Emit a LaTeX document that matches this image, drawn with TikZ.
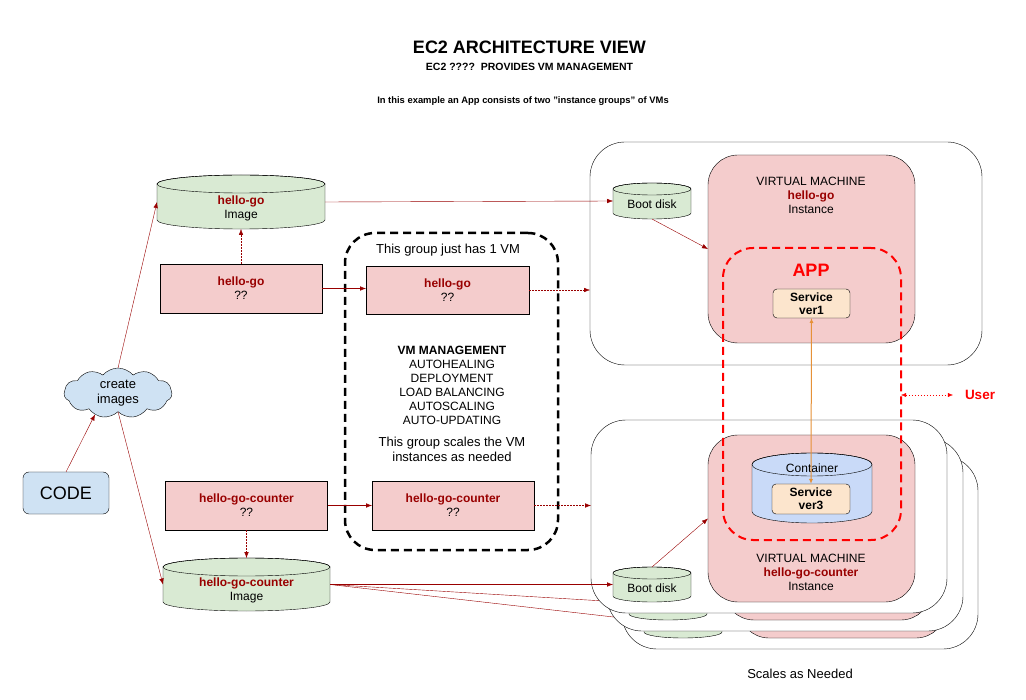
\documentclass[tikz,border=0pt]{standalone}
\usepackage{fontspec}
\setmainfont{Liberation Sans}
\usetikzlibrary{shapes.symbols,arrows.meta}

\definecolor{darkred}{HTML}{990000}
\definecolor{vmpink}{HTML}{F4CCCC}
\definecolor{diskgreen}{HTML}{D9EAD3}
\definecolor{codeblue}{HTML}{CFE2F3}
\definecolor{contblue}{HTML}{C9DAF8}
\definecolor{svcpeach}{HTML}{FCE5CD}
\definecolor{svcorange}{HTML}{E69138}
\definecolor{appred}{HTML}{FF0000}

\pgfdeclarelayer{background}
\pgfsetlayers{background,main}

\begin{document}
\begin{tikzpicture}[x=1pt, y=-1pt, line width=0.9pt,
        every node/.style={font=\fontsize{12}{14}\selectfont, align=center, inner sep=0pt, outer sep=0pt},
        pics/tube/.style n args={4}{code={
            \filldraw[fill=#4] (-#1,#3-#2) -- (-#1,#2-#3)
                arc[start angle=180, end angle=0, x radius=#1, y radius=#3]
                -- (#1,#3-#2) arc[start angle=0, end angle=-180, x radius=#1, y radius=#3] -- cycle;
            \draw (0,#3-#2) ellipse[x radius=#1, y radius=#3];
        }},
        srcbox/.style={draw, fill=vmpink, minimum width=162, minimum height=49},
        hostbox/.style={draw, fill=white, rounded corners=35, minimum width=356, minimum height=193},
        vmbox/.style={draw, fill=vmpink, rounded corners=30, minimum width=207, minimum height=167},
        svcbox/.style={draw, fill=svcpeach, rounded corners=4, minimum width=78, minimum height=30, font=\fontsize{12}{13}\selectfont\bfseries},
        link/.style={draw=darkred, -{Latex[length=6pt,width=4.5pt]}},
        dotlink/.style={link, dash pattern=on 1.5pt off 1.5pt}
    ]
        \useasboundingbox (0,0) rectangle (1026,700);
        \begin{pgfonlayer}{background}
            \fill[white] (0,0) rectangle (1026,700);
        \end{pgfonlayer}

        % titles
        \node[font=\fontsize{18}{20}\selectfont\bfseries] (title) at (529.5,47) {EC2 ARCHITECTURE VIEW};
        \node[font=\fontsize{10.5}{12}\selectfont\bfseries] (subtitle) at (529.5,67) {EC2 ????\ \ PROVIDES VM MANAGEMENT};
        \node[font=\fontsize{9.4}{11}\selectfont\bfseries] (intro) at (523,101) {In this example an App consists of two "instance groups" of VMs};

        % code and images
        \node[draw, fill=codeblue, rounded corners=6, minimum width=86, minimum height=42, font=\fontsize{18}{20}\selectfont] (code) at (66,493) {CODE};
        \node[cloud, draw, fill=codeblue, cloud puffs=11, cloud puff arc=100, aspect=2.2, minimum width=108, minimum height=50, font=\fontsize{13}{15}\selectfont] (cloud) at (118,393) {create\\images};
        \pic at (241,202) {tube={84}{27}{9}{diskgreen}};
        \node[minimum width=168, minimum height=54, label={[yshift=-6pt]center:{\textcolor{darkred}{\textbf{hello-go}}\\Image}}] (imgGo) at (241,202) {};
        \node[srcbox] (srcGo) at (241,288.5) {\textcolor{darkred}{\textbf{hello-go}}\\??};
        \node[srcbox] (srcCnt) at (246.5,505.5) {\textcolor{darkred}{\textbf{hello-go-counter}}\\??};
        \pic at (246.5,584.5) {tube={83.5}{26.5}{9}{diskgreen}};
        \node[minimum width=167, minimum height=53, label={[yshift=-5.5pt]center:{\textcolor{darkred}{\textbf{hello-go-counter}}\\Image}}] (imgCnt) at (246.5,584.5) {};

        % instance groups
        \node[draw, line width=2.5pt, dash pattern=on 8pt off 5pt, rounded corners=30, minimum width=213, minimum height=317] (grp) at (451.5,391.5) {};
        \node[font=\fontsize{13}{15}\selectfont] (grpOne) at (448,250) {This group just has 1 VM};
        \node[srcbox, minimum width=163, minimum height=48] (mgGo) at (447.5,290) {\textcolor{darkred}{\textbf{hello-go}}\\??};
        \node[srcbox] (mgCnt) at (453,505.5) {\textcolor{darkred}{\textbf{hello-go-counter}}\\??};
        \node (mgmt) at (452,385) {\textbf{VM MANAGEMENT}\\AUTOHEALING\\DEPLOYMENT\\LOAD BALANCING\\AUTOSCALING\\AUTO-UPDATING};
        \node[font=\fontsize{13}{15}\selectfont] (grpScale) at (452,449.5) {This group scales the VM\\instances as needed};

        % hello-go vm
        \node[hostbox, minimum width=392, minimum height=223] (hostGo) at (786,253.5) {};
        \pic at (652,201) {tube={39}{18}{6}{diskgreen}};
        \node[minimum width=78, minimum height=36, label={[yshift=-3pt]center:Boot disk}] (bootGo) at (652,201) {};
        \node[vmbox, minimum height=188] (vmGo) at (811.5,249) {};
        \node (vmGoTxt) at (811,195.5) {VIRTUAL MACHINE\\\textcolor{darkred}{\textbf{hello-go}}\\Instance};
        \node[svcbox, minimum width=77, minimum height=29] (svcOne) at (811.5,303.5) {Service\\ver1};

        % hello-go-counter vms, back copies first
        \foreach \i/\dx/\dy in {3/31/36, 2/16/18} {
            \node[hostbox] (hostCnt\i) at (769+\dx,516.5+\dy) {};
            \pic at (652+\dx,584.5+\dy) {tube={39}{17.5}{6}{diskgreen}};
            \node[minimum width=78, minimum height=35] (bootCnt\i) at (652+\dx,584.5+\dy) {};
            \node[vmbox] (vmCnt\i) at (811.5+\dx,518.5+\dy) {};
        }
        \node[hostbox] (hostCnt) at (769,516.5) {};
        \pic at (652,584.5) {tube={39}{17.5}{6}{diskgreen}};
        \node[minimum width=78, minimum height=35, label={[yshift=-3.5pt]center:Boot disk}] (bootCnt) at (652,584.5) {};
        \node[vmbox] (vmCnt) at (811.5,518.5) {};
        \node (vmCntTxt) at (811,572) {VIRTUAL MACHINE\\\textcolor{darkred}{\textbf{hello-go-counter}}\\Instance};
        \pic at (812,488) {tube={60}{35}{11.5}{contblue}};
        \node[minimum width=120, minimum height=70, label={[yshift=20pt]center:Container}] (cont) at (812,488) {};
        \node[svcbox] (svcThree) at (811,499) {Service\\ver3};
        \node[font=\fontsize{13}{15}\selectfont] (scaleNote) at (800,674) {Scales as Needed};

        % app
        \node[draw=appred, line width=2pt, dash pattern=on 8pt off 5pt, rounded corners=30, minimum width=178, minimum height=292] (app) at (812,394) {};
        \node[text=appred, font=\fontsize{18}{20}\selectfont\bfseries] (appTxt) at (811,270) {APP};
        \node[text=appred, font=\fontsize{13.5}{15}\selectfont\bfseries] (user) at (980,395) {User};

        % connectors
        \draw[link] (code.north) -- (cloud.223);
        \draw[link] (cloud.north) -- (imgGo.west);
        \draw[link] (cloud.south) -- (imgCnt.west);
        \draw[dotlink] (srcGo.north) -- (imgGo.south);
        \draw[dotlink] (srcCnt.south) -- (imgCnt.north);
        \draw[link] (srcGo.east) -- (srcGo.east -| mgGo.west);
        \draw[link] (srcCnt.east) -- (srcCnt.east -| mgCnt.west);
        \draw[dotlink] (mgGo.east) -- (mgGo.east -| hostGo.west);
        \draw[dotlink] (mgCnt.east) -- (mgCnt.east -| hostCnt.west);
        \draw[link] (imgGo.east) -- (bootGo.west);
        \draw[link] (imgCnt.east) -- (bootCnt.west);
        \begin{pgfonlayer}{background}
            \foreach \i in {2,3} \draw[link] (imgCnt.east) -- (bootCnt\i.west);
        \end{pgfonlayer}
        \draw[link] (bootGo.south) -- (vmGo.west);
        \draw[link] (bootCnt.north) -- (vmCnt.west);
        \draw[svcorange, line width=1pt, {Latex[length=5pt,width=4pt]}-{Latex[length=5pt,width=4pt]}] (svcOne.south) -- (svcThree.north);
        \draw[appred, dash pattern=on 1.5pt off 1.5pt, {Latex[length=5pt,width=4pt]}-{Latex[length=5pt,width=4pt]}, shorten >=12pt] (app.east |- user.west) -- (user.west);
    \end{tikzpicture}
\end{document}
